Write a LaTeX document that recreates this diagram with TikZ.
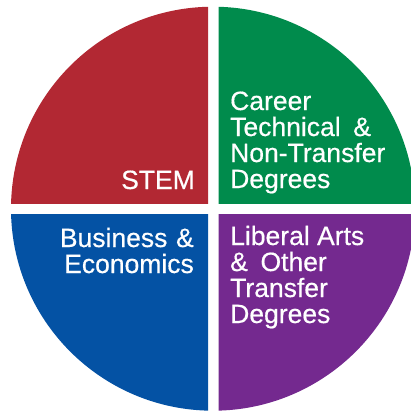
\documentclass[tikz,border=0pt]{standalone}
\usepackage{fontspec}
\setmainfont{Liberation Sans}[FakeBold=0.5]
\definecolor{qred}{RGB}{178,40,51}
\definecolor{qgreen}{RGB}{0,139,76}
\definecolor{qblue}{RGB}{4,82,164}
\definecolor{qpurple}{RGB}{116,41,143}
\begin{document}
\begin{tikzpicture}[x=1pt,y=-1pt,
  lbl/.style={text=white,inner sep=0pt,font=\fontsize{26.5}{26}\selectfont}]
\useasboundingbox (0,0) rectangle (411,413);
\clip (0,0) rectangle (411,413);
\coordinate (c) at (213,208.7);
\begin{scope}
  \clip (0,0) rectangle (208,203.5);
  \fill[qred] (c) circle[radius=202];
\end{scope}
\begin{scope}
  \clip (218.5,0) rectangle (420,203.5);
  \fill[qgreen] (c) circle[radius=202];
\end{scope}
\begin{scope}
  \clip (0,214) rectangle (208,420);
  \fill[qblue] (c) circle[radius=202];
\end{scope}
\begin{scope}
  \clip (218.5,214) rectangle (420,420);
  \fill[qpurple] (c) circle[radius=202];
\end{scope}
\node[lbl,anchor=base east] (stem) at (195,189) {STEM};
\node[lbl,anchor=base west,align=left] (career) at (230,188) {Career\\Technical\hspace{0.2em} \&\\Non-Transfer\\Degrees};
\node[lbl,anchor=base east,align=right] (bus) at (194,273) {Business\hspace{0.05em} \&\\Economics};
\node[lbl,anchor=base west,align=left] (lib) at (230,323) {Liberal Arts\\\&\hspace{0.2em} Other\\Transfer\\Degrees};
\end{tikzpicture}
\end{document}
